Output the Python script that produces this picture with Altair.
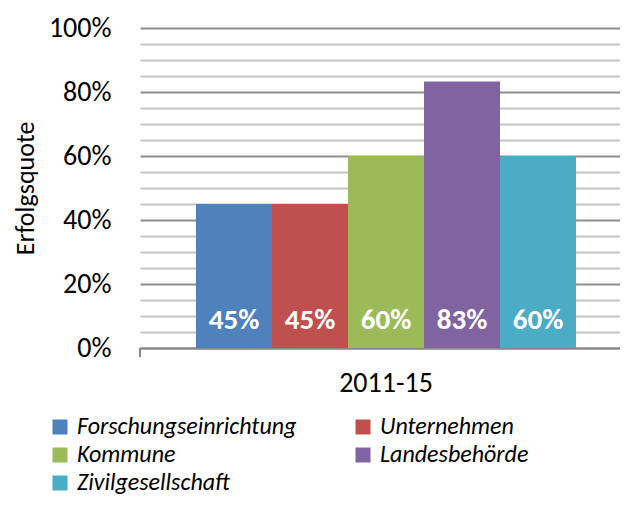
import altair as alt
import pandas as pd

groups = ["Forschungseinrichtung", "Unternehmen", "Kommune", "Landesbehörde", "Zivilgesellschaft"]
values = [0.45, 0.45, 0.60, 0.833, 0.60]
period = "2011-15"
colors = ["#4f81bd", "#c0504d", "#9bbb59", "#8064a2", "#4bacc6"]
y_ticks = [i / 100 for i in range(0, 101, 5)]

# legend is filled column by column: order entries so rows read like the reference
legend_order = [0, 2, 4, 1, 3]
legend_groups = [groups[i] for i in legend_order]
legend_colors = [colors[i] for i in legend_order]

df = pd.DataFrame({"period": [period] * len(groups), "group": groups, "value": values})

FONT = "Carlito, Lato"

x_enc = alt.X("period:N", title=None,
              scale=alt.Scale(paddingInner=0, paddingOuter=0.1316, align=0.56),
              axis=alt.Axis(labelAngle=0, ticks=False, labelFontSize=28, labelFont=FONT,
                            labelColor="#000000", labelPadding=21,
                            domainColor="#868686", domainWidth=2))
xo_enc = alt.XOffset("group:N", sort=groups, scale=alt.Scale(paddingInner=0, paddingOuter=0))

bars = alt.Chart(df).mark_bar().encode(
    x=x_enc,
    xOffset=xo_enc,
    y=alt.Y("value:Q", title="Erfolgsquote",
            scale=alt.Scale(domain=[0, 1], nice=False),
            axis=alt.Axis(values=y_ticks, format=".0%",
                          labelExpr="round(datum.value*100) % 20 == 0 ? datum.label : ''",
                          ticks=False, domain=False, labelFontSize=28, labelFont=FONT,
                          labelColor="#000000", labelPadding=29,
                          titleFontSize=26, titleFont=FONT, titleFontWeight="normal",
                          titleColor="#000000", titlePadding=10,
                          gridColor={"condition": {"test": "round(datum.value*100) % 20 == 0", "value": "#8f8f8f"},
                                     "value": "#c4c4c4"},
                          gridWidth=2)),
    color=alt.Color("group:N",
                    scale=alt.Scale(domain=legend_groups, range=legend_colors),
                    legend=alt.Legend(title=None, orient="none", legendX=-92, legendY=387,
                                      padding=0, columns=2, symbolType="square", symbolSize=225,
                                      symbolStrokeWidth=0, labelFontSize=24, labelFont=FONT,
                                      labelFontStyle="italic", labelColor="#000000",
                                      labelOffset=5, rowPadding=4, columnPadding=54,
                                      labelLimit=400)),
)

labels = alt.Chart(df).mark_text(color="white", fontWeight="bold", fontSize=29, font=FONT,
                                 baseline="middle").encode(
    x=alt.X("period:N"),
    xOffset=alt.XOffset("group:N", sort=groups),
    y=alt.value(292),
    text=alt.Text("value:Q", format=".0%"),
)

tick = alt.Chart(df.head(1)).mark_rule(color="#868686", strokeWidth=2).encode(
    x=alt.value(0), y=alt.value(320), y2=alt.value(329)
)

chart = alt.layer(bars, labels, tick).properties(
    width=480, height=320,
    autosize=alt.AutoSizeParams(type="none"),
    padding={"left": 132, "top": 20, "right": 0, "bottom": 149},
).configure_view(stroke=None)

chart.save("out.html", embed_options={"renderer": "svg", "actions": False})
